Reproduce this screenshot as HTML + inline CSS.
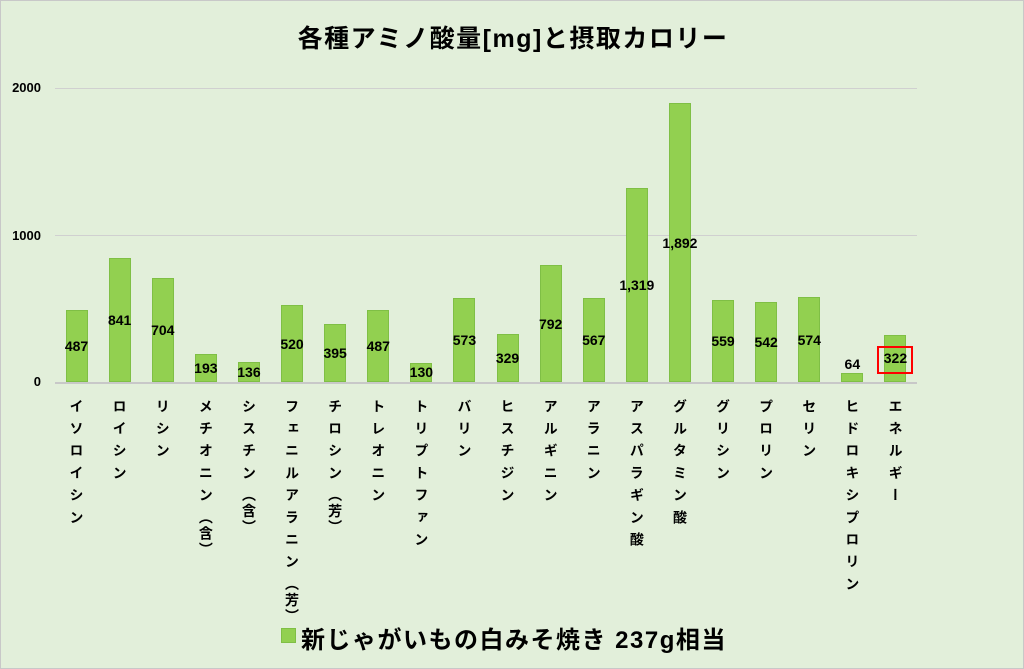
<!DOCTYPE html>
<html><head><meta charset="utf-8"><style>
body{margin:0;width:1024px;height:669px;overflow:hidden;background:#e2efda;font-family:"Liberation Sans","Noto Sans CJK JP",sans-serif;}
#c{position:absolute;left:0;top:0;width:1022px;height:667px;border:1px solid #c8c8c8;background:#e2efda;}
.t{position:absolute;font-weight:bold;color:#000;white-space:nowrap;}
.g{position:absolute;left:54px;width:862px;height:1px;background:#d0d0d0;}
.bar{position:absolute;width:22px;background:#92d050;border:1px solid #7fbf45;box-sizing:border-box;}
.v{position:absolute;width:40px;text-align:center;font-size:14px;font-weight:bold;}
.lab{position:absolute;top:398px;writing-mode:vertical-rl;font-size:14px;font-weight:bold;letter-spacing:8.2px;line-height:20px;width:20px;}
.p{letter-spacing:2px;}
</style></head><body><div id="c">
<div class="t" style="left:0;width:1024px;text-align:center;top:18px;font-size:25px;letter-spacing:1.5px;">各種アミノ酸量[mg]と摂取カロリー</div>
<div class="t" style="left:0;width:40px;text-align:right;top:79px;font-size:13px;">2000</div>
<div class="t" style="left:0;width:40px;text-align:right;top:227px;font-size:13px;">1000</div>
<div class="t" style="left:0;width:40px;text-align:right;top:373px;font-size:13px;">0</div>
<div class="g" style="top:87px"></div>
<div class="g" style="top:234px"></div>
<div class="g" style="top:381px;height:2px;background:#c8c8c8"></div>
<div id="bars"></div>
<div style="position:absolute;left:280px;top:627px;width:13px;height:13px;background:#92d050;border:1px solid #7fbf45"></div>
<div class="t" style="left:300px;top:619px;font-size:24px;letter-spacing:1.5px;">新じゃがいもの白みそ焼き 237g相当</div>
</div>
<script>
var d=[["イソロイシン",487],["ロイシン",841],["リシン",704],["メチオニン（含）",193],["シスチン（含）",136],["フェニルアラニン（芳）",520],["チロシン（芳）",395],["トレオニン",487],["トリプトファン",130],["バリン",573],["ヒスチジン",329],["アルギニン",792],["アラニン",567],["アスパラギン酸",1319],["グルタミン酸",1892],["グリシン",559],["プロリン",542],["セリン",574],["ヒドロキシプロリン",64],["エネルギー",322]];
var h="";
d.forEach(function(e,i){var cx=54+43.1*(i+0.5);var ht=e[1]*0.1473;var top=381-ht;
h+='<div class="bar" style="left:'+(cx-11)+'px;top:'+top+'px;height:'+ht+'px"></div>';
var ly=e[1]<100?top-17:top+ht/2-8;
var s=e[1].toLocaleString("en-US");
h+='<div class="v" style="left:'+(cx-20)+'px;top:'+ly+'px">'+s+'</div>';
if(i==19)h+='<div style="position:absolute;left:'+(cx-18)+'px;top:'+(ly-4)+'px;width:32px;height:24px;border:2px solid #f00"></div>';
var lab=e[0].replace(/（(.)）/,'<span class="p">（$1）</span>');
h+='<div class="lab" style="left:'+(cx-10)+'px">'+lab+'</div>';});
document.getElementById("bars").innerHTML=h;
</script>
</body></html>
